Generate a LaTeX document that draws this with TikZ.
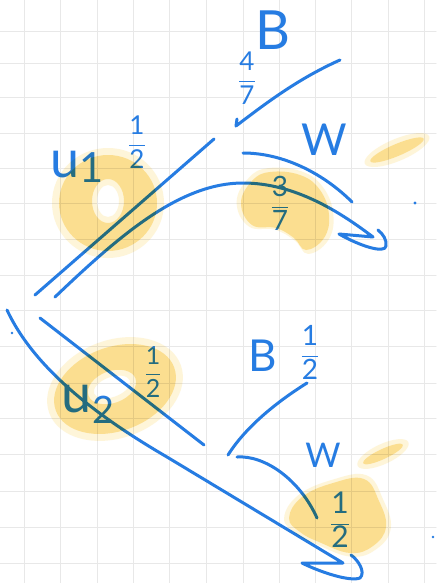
\documentclass[tikz,border=0pt]{standalone}
\usepackage{fontspec}
\setmainfont{Lato}
\usepackage{tikz}
\usetikzlibrary{calc}
\definecolor{penblue}{RGB}{38,124,226}
\definecolor{hilite}{RGB}{251,210,85}
\definecolor{gridgray}{RGB}{232,232,232}

\begin{document}
\begin{tikzpicture}[x=1pt, y=-1pt, line cap=round, line join=round,
    ink/.style={draw=penblue, line width=3pt},
    lab/.style={text=penblue, inner sep=0pt, font=\fontsize{#1}{#1}\selectfont},
    lab/.default=40,
    marker/.style={fill=hilite, fill opacity=0.5},
    halo/.style={fill=hilite, fill opacity=0.22}]
    % Paper and grid
    \useasboundingbox (0,0) rectangle (436,583);
    \fill[white] (0,0) rectangle (436,583);
    \foreach \gx in {24,60,97,133,169,206,243,279,315,351,388,424}
      \draw[gridgray, line width=1pt] (\gx,0) -- (\gx,583);
    \foreach \gy in {32,64,98,133,168,203,239,275,310,346,383,418,454,491,527,563}
      \draw[gridgray, line width=1pt] (0,\gy) -- (436,\gy);

    % Branch ends
    \coordinate (rootA) at (35,295);
    \coordinate (rootB) at (55,297);
    \coordinate (uA) at (214,139);
    \coordinate (tipA) at (373,237);
    \coordinate (bAs) at (236,126);
    \coordinate (bAe) at (340,60);
    \coordinate (wAs) at (243,153);
    \coordinate (wAe) at (352,202);
    \coordinate (rootC) at (40,318);
    \coordinate (rootD) at (7,310);
    \coordinate (uB) at (204,445);
    \coordinate (tipB) at (343,563);
    \coordinate (bBs) at (228,455);
    \coordinate (bBe) at (307,383);
    \coordinate (wBs) at (237,457);
    \coordinate (wBe) at (317,518);

    % Upper tree
    \draw[ink] (rootA) -- (uA);
    \draw[ink] (rootB) .. controls (120,235) and (180,183) .. (243,183)
      .. controls (295,183) and (340,212) .. (tipA)
      -- (339,234) .. controls (360,246) and (385,254) .. (386,246)
      .. controls (387,240) and (383,234) .. (378,230);
    \draw[ink] (237,119) -- (bAs) .. controls (270,100) and (300,78) .. (bAe);
    \draw[ink] (wAs) .. controls (285,153) and (325,175) .. (wAe);

    % Lower tree
    \draw[ink] (rootC) -- (uB);
    \draw[ink] (rootD) .. controls (35,370) and (100,418) .. (167,457) -- (tipB)
      -- (302,563) .. controls (320,572) and (350,582) .. (360,578)
      .. controls (366,572) and (358,560) .. (351,555);
    \draw[ink] (bBs) .. controls (245,428) and (275,403) .. (bBe);
    \draw[ink] (wBs) .. controls (265,455) and (300,480) .. (wBe);

    % Stray pen dots
    \fill[penblue] (415,203) circle (1.6pt);
    \fill[penblue] (12,333) circle (1.4pt);
    \fill[penblue] (433,537) circle (1.4pt);

    % Labels
    \node[lab=52] (lu1) at (77,167) {u\raisebox{-0.1em}{\scalebox{0.8}{1}}};
    \node[lab=26] (pu1) at (137,142) {$\displaystyle\frac{\mbox{1}}{\mbox{2}}$};
    \node[lab=54] (lbA) at (273,30) {B};
    \node[lab=26] (pbA) at (247,78) {$\displaystyle\frac{\mbox{4}}{\mbox{7}}$};
    \node[lab=44] (lwA) at (324,140) {W};
    \node[lab=28] (pwA) at (280,203) {$\displaystyle\frac{\mbox{3}}{\mbox{7}}$};
    \node[lab=54] (lu2) at (88,404) {u\raisebox{-0.2em}{\scalebox{0.7}{2}}};
    \node[lab=25] (pu2) at (153,372) {$\displaystyle\frac{\mbox{1}}{\mbox{2}}$};
    \node[lab=44] (lbB) at (263,356) {B};
    \node[lab=28] (pbB) at (310,352) {$\displaystyle\frac{\mbox{1}}{\mbox{2}}$};
    \node[lab=34] (lwB) at (323,455) {W};
    \node[lab=30] (pwB) at (340,520) {$\displaystyle\frac{\mbox{1}}{\mbox{2}}$};

    % Yellow marker strokes laid over the ink (soft rim first, then core)
    \begin{scope}[blend mode=multiply]
      \fill[halo, even odd rule] (108,203) ellipse [x radius=56pt, y radius=55pt]
        (108,201) ellipse [x radius=11pt, y radius=16pt];
      \fill[marker, even odd rule] (108,203) ellipse [x radius=49pt, y radius=48pt]
        (108,201) ellipse [x radius=16pt, y radius=22pt];
      \begin{scope}[shift={(285,211)}, scale=1.1, shift={(-285,-211)}]
        \fill[halo] plot[smooth cycle, tension=0.7] coordinates {(241,203) (252,181) (270,172) (300,175) (320,190) (329,215) (324,238) (306,250) (294,238) (276,228) (252,225)};
      \end{scope}
      \fill[marker] plot[smooth cycle, tension=0.7] coordinates {(241,203) (252,181) (270,172) (300,175) (320,190) (329,215) (324,238) (306,250) (294,238) (276,228) (252,225)};
      \fill[halo] (397,150) circle [x radius=35pt, y radius=11pt, rotate=23];
      \fill[marker] (397,150) circle [x radius=29pt, y radius=6pt, rotate=23];
      \fill[halo, even odd rule] (115,389) circle [x radius=70pt, y radius=49pt, rotate=20]
        (112,387) circle [x radius=19pt, y radius=10pt, rotate=20];
      \fill[marker, even odd rule] (115,389) circle [x radius=63pt, y radius=42pt, rotate=20]
        (112,387) circle [x radius=25pt, y radius=16pt, rotate=20];
      \begin{scope}[shift={(338,516)}, scale=1.1, shift={(-338,-516)}]
        \fill[halo] plot[smooth cycle, tension=0.7] coordinates {(289,518) (302,497) (333,483) (364,479) (379,501) (386,527) (373,546) (350,553) (319,542) (300,532)};
      \end{scope}
      \fill[marker] plot[smooth cycle, tension=0.7] coordinates {(289,518) (302,497) (333,483) (364,479) (379,501) (386,527) (373,546) (350,553) (319,542) (300,532)};
      \fill[halo] (383,454) circle [x radius=28pt, y radius=10pt, rotate=25];
      \fill[marker] (383,454) circle [x radius=22pt, y radius=5pt, rotate=25];
    \end{scope}
\end{tikzpicture}
\end{document}
